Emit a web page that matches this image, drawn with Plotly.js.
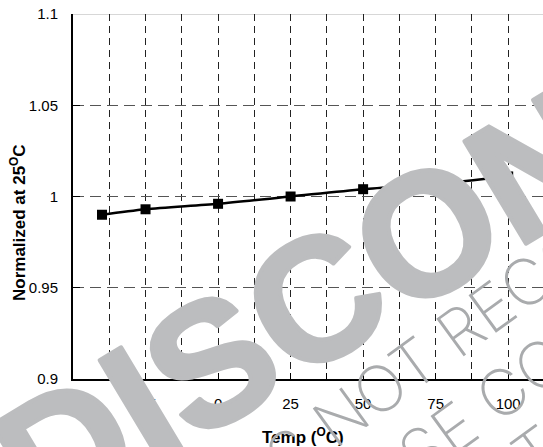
<!DOCTYPE html>
<html>
<head>
<meta charset="utf-8">
<script src="https://cdn.plot.ly/plotly-3.0.1.min.js"></script>
<style>
  html, body { margin: 0; padding: 0; background: #fff; overflow: hidden; }
  #chart { width: 543px; height: 447px; }
  /* heavy stamp word: a same-colour stroke fattens the glyphs */
  #chart .annotation[data-index="2"] .annotation-text {
    stroke: #bcbdbf;
    stroke-width: 4px;
    stroke-linejoin: round;
  }
</style>
</head>
<body>
<div id="chart"></div>
<script>
// Temperature drift, normalized to the 25 °C reading
const temps = [-40, -25, 0, 25, 50, 75, 100];
const normalized = [0.990, 0.993, 0.996, 1.000, 1.004, 1.007, 1.011];

// labelled x ticks every 25 °C (minor grid every 12.5 °C)
const xTickVals = [-50, -25, 0, 25, 50, 75, 100];
const xTickText = ['-50', '-25', '0', '25', '50', '75', '100'];
const yTickVals = [0.9, 0.95, 1, 1.05, 1.1];

// Stamp lines printed across the sheet
const stampMain = 'DISCONTINUED';
const stampLines = [
  'THIS PRODUCT IS NOT RECOMMENDED FOR NEW DESIGNS',
  'PLEASE CONTACT OUR TECHNICAL',
  'SUPPORT CENTER'
];

const W = 543, H = 447;
const M = { l: 73, r: 0, t: 14, b: 68 };
const PW = W - M.l - M.r, PH = H - M.t - M.b;
const AXIS_FONT = 'Liberation Sans, Arial, sans-serif';

// place a rotated text line so that one chosen glyph lands centred on (cx, cy)
const ctx = document.createElement('canvas').getContext('2d');
function stamp(text, refIndex, cx, cy, size, angle, family, weight, color) {
  ctx.font = weight + ' ' + size + 'px ' + family;
  const pre = ctx.measureText(text.slice(0, refIndex)).width;
  const g = ctx.measureText(text[refIndex]).width;
  const full = ctx.measureText(text).width;
  const d = pre + g / 2 - full / 2;
  const rad = angle * Math.PI / 180;
  const tx = cx - d * Math.cos(rad);
  const ty = cy + d * Math.sin(rad);
  return {
    xref: 'paper', yref: 'paper',
    x: (tx - M.l) / PW, y: (H - M.b - ty) / PH,
    xanchor: 'center', yanchor: 'middle',
    text: text, textangle: -angle, showarrow: false,
    font: { family: family, size: size, weight: weight, color: color }
  };
}

const THIN = 'Inter, Lato, Roboto, sans-serif';
const annotations = [
  {
    xref: 'paper', yref: 'paper', x: (18 - M.l) / PW, y: (H - M.b - 223) / PH,
    xanchor: 'center', yanchor: 'middle', textangle: -90, showarrow: false,
    text: 'Normalized at 25<sup>O</sup>C',
    font: { family: AXIS_FONT, size: 17, weight: 'bold', color: '#000' }
  },
  {
    xref: 'paper', yref: 'paper', x: (303 - M.l) / PW, y: (H - M.b - 436) / PH,
    xanchor: 'center', yanchor: 'middle', showarrow: false,
    text: 'Temp (<sup>O</sup>C)',
    font: { family: AXIS_FONT, size: 17, weight: 'bold', color: '#000' }
  },
  stamp(stampMain, 4, 427, 233, 174, 31, 'Liberation Sans, Arial, sans-serif', 'bold', '#bcbdbf'),
  stamp(stampLines[0], 17, 380, 388, 64, 36, THIN, 200, '#a9abad'),
  stamp(stampLines[1], 7, 503, 392, 64, 36, THIN, 200, '#a9abad'),
  stamp(stampLines[2], 6, 536, 452, 64, 36, THIN, 200, '#a9abad')
];

const trace = {
  x: temps, y: normalized,
  type: 'scatter', mode: 'lines+markers',
  line: { color: '#000', width: 2.5, shape: 'spline', smoothing: 0.8 },
  marker: { symbol: 'square', size: 10, color: '#000' },
  cliponaxis: false
};

const layout = {
  width: W, height: H,
  margin: M,
  paper_bgcolor: '#fff', plot_bgcolor: '#fff',
  showlegend: false,
  font: { family: AXIS_FONT, size: 15, color: '#000' },
  xaxis: {
    range: [-50, 112], tickmode: 'array', tickvals: xTickVals, ticktext: xTickText,
    ticks: 'inside', ticklen: 6, tickwidth: 1, tickcolor: '#000',
    showline: true, linecolor: '#000', linewidth: 2,
    showgrid: true, gridcolor: '#222', gridwidth: 1, griddash: '7px,5px',
    minor: {
      tick0: -50, dtick: 12.5, ticks: 'inside', ticklen: 6, tickcolor: '#000',
      showgrid: true, gridcolor: '#222', gridwidth: 1, griddash: '7px,5px'
    },
    zeroline: false, ticklabelstandoff: 10,
    tickfont: { family: AXIS_FONT, size: 15, color: '#000' }
  },
  yaxis: {
    range: [0.9, 1.1], tickmode: 'array', tickvals: yTickVals,
    ticks: 'inside', ticklen: 7, tickwidth: 1, tickcolor: '#000',
    showline: true, linecolor: '#000', linewidth: 2,
    showgrid: true, gridcolor: '#555', gridwidth: 1, griddash: '11px,6px',
    zeroline: false, ticklabelstandoff: 10,
    tickfont: { family: AXIS_FONT, size: 15, color: '#000' }
  },
  shapes: [
    { type: 'line', layer: 'below', xref: 'paper', yref: 'y', x0: 0, x1: 1, y0: 1.1, y1: 1.1,
      line: { color: '#b0b0b0', width: 1 } }
  ],
  annotations: annotations
};

Plotly.newPlot('chart', [trace], layout, { staticPlot: true, displayModeBar: false });
</script>
</body>
</html>
